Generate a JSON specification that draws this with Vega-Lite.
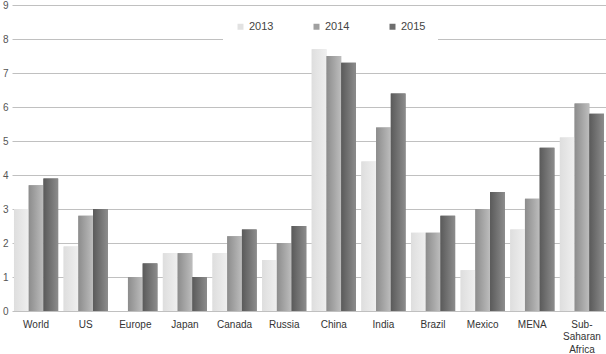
{
  "$schema": "https://vega.github.io/schema/vega-lite/v6.json",
  "width": 594,
  "height": 306,
  "autosize": {"type": "none"},
  "padding": {"left": 12, "top": 5, "right": 0, "bottom": 43},
  "background": "white",
  "config": {
    "view": {"stroke": null},
    "font": "Liberation Sans",
    "axis": {"labelFont": "Liberation Sans"},
    "legend": {"labelFont": "Liberation Sans"}
  },
  "data": {
    "values": [
      {"region": "World", "year": "2013", "value": 3.0},
      {"region": "World", "year": "2014", "value": 3.7},
      {"region": "World", "year": "2015", "value": 3.9},
      {"region": "US", "year": "2013", "value": 1.9},
      {"region": "US", "year": "2014", "value": 2.8},
      {"region": "US", "year": "2015", "value": 3.0},
      {"region": "Europe", "year": "2014", "value": 1.0},
      {"region": "Europe", "year": "2015", "value": 1.4},
      {"region": "Japan", "year": "2013", "value": 1.7},
      {"region": "Japan", "year": "2014", "value": 1.7},
      {"region": "Japan", "year": "2015", "value": 1.0},
      {"region": "Canada", "year": "2013", "value": 1.7},
      {"region": "Canada", "year": "2014", "value": 2.2},
      {"region": "Canada", "year": "2015", "value": 2.4},
      {"region": "Russia", "year": "2013", "value": 1.5},
      {"region": "Russia", "year": "2014", "value": 2.0},
      {"region": "Russia", "year": "2015", "value": 2.5},
      {"region": "China", "year": "2013", "value": 7.7},
      {"region": "China", "year": "2014", "value": 7.5},
      {"region": "China", "year": "2015", "value": 7.3},
      {"region": "India", "year": "2013", "value": 4.4},
      {"region": "India", "year": "2014", "value": 5.4},
      {"region": "India", "year": "2015", "value": 6.4},
      {"region": "Brazil", "year": "2013", "value": 2.3},
      {"region": "Brazil", "year": "2014", "value": 2.3},
      {"region": "Brazil", "year": "2015", "value": 2.8},
      {"region": "Mexico", "year": "2013", "value": 1.2},
      {"region": "Mexico", "year": "2014", "value": 3.0},
      {"region": "Mexico", "year": "2015", "value": 3.5},
      {"region": "MENA", "year": "2013", "value": 2.4},
      {"region": "MENA", "year": "2014", "value": 3.3},
      {"region": "MENA", "year": "2015", "value": 4.8},
      {"region": "Sub-Saharan Africa", "year": "2013", "value": 5.1},
      {"region": "Sub-Saharan Africa", "year": "2014", "value": 6.1},
      {"region": "Sub-Saharan Africa", "year": "2015", "value": 5.8}
    ]
  },
  "encoding": {
    "x": {
      "field": "region",
      "type": "nominal",
      "sort": null,
      "scale": {"paddingInner": 0.11, "paddingOuter": 0.04},
      "axis": {
        "title": null,
        "labelAngle": 0,
        "domain": false,
        "ticks": false,
        "labelPadding": 8,
        "labelFontSize": 10,
        "labelColor": "#333333",
        "labelLineHeight": 12.5,
        "labelBaseline": "top",
        "labelExpr": "datum.value == 'Sub-Saharan Africa' ? ['Sub-', 'Saharan', 'Africa'] : datum.value"
      }
    },
    "xOffset": {
      "field": "year",
      "type": "nominal",
      "scale": {"domain": ["2013", "2014", "2015"], "paddingInner": 0, "paddingOuter": 0}
    },
    "y": {
      "field": "value",
      "type": "quantitative",
      "scale": {"domain": [0, 9], "nice": false},
      "axis": {
        "title": null,
        "domain": false,
        "ticks": false,
        "tickCount": 9,
        "labelPadding": 4,
        "labelFontSize": 10,
        "labelColor": "#555555",
        "gridColor": "#c0c0c0",
        "gridWidth": 1
      }
    }
  },
  "layer": [
    {
      "mark": {"type": "bar"},
      "encoding": {
        "color": {
          "field": "year",
          "type": "nominal",
          "scale": {"domain": ["2013", "2014", "2015"], "range": ["#e2e2e2", "#a0a0a0", "#6e6e6e"]},
          "legend": {
            "title": null,
            "orient": "none",
            "legendX": 211,
            "legendY": 4,
            "direction": "horizontal",
            "fillColor": "white",
            "padding": 12,
            "columnPadding": 37,
            "symbolType": "square",
            "symbolSize": 36,
            "symbolStrokeWidth": 0,
            "labelFontSize": 11,
            "labelColor": "#444444",
            "labelOffset": 3
          }
        }
      }
    },
    {
      "transform": [{"filter": "datum.year == '2013'"}],
      "mark": {
        "type": "bar",
        "color": {"gradient": "linear", "x1": 0, "x2": 1, "y1": 0, "y2": 0,
          "stops": [{"offset": 0, "color": "#dedede"}, {"offset": 1, "color": "#efefef"}]}
      }
    },
    {
      "transform": [{"filter": "datum.year == '2014'"}],
      "mark": {
        "type": "bar",
        "color": {"gradient": "linear", "x1": 0, "x2": 1, "y1": 0, "y2": 0,
          "stops": [{"offset": 0, "color": "#8c8c8c"}, {"offset": 1, "color": "#bdbdbd"}]}
      }
    },
    {
      "transform": [{"filter": "datum.year == '2015'"}],
      "mark": {
        "type": "bar",
        "color": {"gradient": "linear", "x1": 0, "x2": 1, "y1": 0, "y2": 0,
          "stops": [{"offset": 0, "color": "#5a5a5a"}, {"offset": 1, "color": "#8c8c8c"}]}
      }
    }
  ]
}
